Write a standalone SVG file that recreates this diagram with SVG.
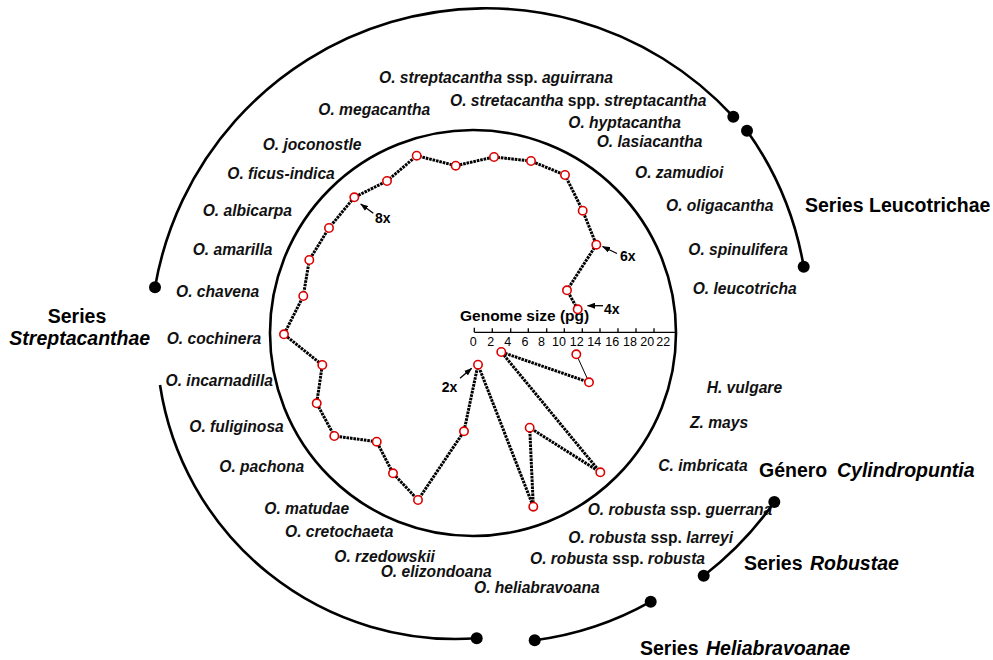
<svg xmlns="http://www.w3.org/2000/svg" width="993" height="660" viewBox="0 0 993 660">
<defs>
<style>
.sp{font-family:"Liberation Sans",Arial,sans-serif;font-weight:bold;font-style:italic;font-size:15.6px;fill:#111}
.up{font-style:normal}
.hd{font-family:"Liberation Sans",Arial,sans-serif;font-weight:bold;font-size:19.5px;fill:#000}
.it{font-style:italic}
.ax{font-family:"Liberation Sans",Arial,sans-serif;font-size:12.5px;fill:#000;text-anchor:middle}
.pl{font-family:"Liberation Sans",Arial,sans-serif;font-weight:bold;font-size:14px;fill:#000}
.arc{fill:none;stroke:#000;stroke-width:2.6}
.dot{fill:#000}
.chain{fill:none;stroke:#000;stroke-width:3;stroke-dasharray:2.6 0.9;stroke-linejoin:round}
.pt{fill:#fff;stroke:#d00;stroke-width:1.6}
.arr{stroke:#000;stroke-width:1.3;fill:none;marker-end:url(#ah)}
</style>
<marker id="ah" markerWidth="8" markerHeight="6" refX="7.5" refY="3" orient="auto" markerUnits="userSpaceOnUse">
<path d="M0,0 L8,3 L0,6 z" fill="#000"/>
</marker>
</defs>
<rect width="993" height="660" fill="#fff"/>

<g id="plot-frame">
<circle cx="473" cy="333" r="203" fill="none" stroke="#000" stroke-width="2.6"/>
</g>

<g id="axis">
<line x1="474.3" y1="332.3" x2="675.5" y2="332.3" stroke="#000" stroke-width="1.3"/>
<path d="M474.3,332.3V327.8 M492.3,332.3V328.3 M510.7,332.3V328.3 M528.3,332.3V328.3 M546.7,332.3V328.3 M564.3,332.3V328.3 M582.3,332.3V328.3 M600,332.3V328.3 M618,332.3V328.3 M636,332.3V328.3 M654,332.3V328.3" stroke="#000" stroke-width="1.3"/>
<text class="pl" x="460" y="321" style="font-size:15.5px">Genome size (pg)</text>
<text class="ax" y="346"><tspan x="473.3">0</tspan><tspan x="490.7">2</tspan><tspan x="507.7">4</tspan><tspan x="525">6</tspan><tspan x="541.5">8</tspan><tspan x="559">10</tspan><tspan x="576.7">12</tspan><tspan x="594.3">14</tspan><tspan x="612.3">16</tspan><tspan x="630">18</tspan><tspan x="647.3">20</tspan><tspan x="663.3">22</tspan></text>
</g>

<g id="connectors">
<path class="chain" d="M577.7,309.3 L567,290.3 L596.3,244.7 L582.7,210.7 L565,175 L531,161 L494,157 L455.7,165.7 L416.7,155.7 L387,181 L354.3,197.3 L329,228 L309.3,260 L303.3,296 L284,334.3 L322.3,365 L316.7,403.3 L334.3,436 L376.7,441.7 L393,473.3 L418,500 L464,431.3 L478,364.7 L533.3,506.7 L529.7,427.7 L600.3,472.3 L501.3,352 L589,382.3"/>
<line x1="576.3" y1="354.3" x2="589" y2="382.3" stroke="#000" stroke-width="1"/>
<line class="arr" x1="373.3" y1="213.3" x2="360.7" y2="204"/>
<line class="arr" x1="617" y1="253.5" x2="602.5" y2="246.5"/>
<line class="arr" x1="603" y1="305.7" x2="587.5" y2="305.7"/>
<line class="arr" x1="460" y1="378.3" x2="471.7" y2="368.3"/>
</g>

<g id="points">
<circle class="pt" cx="577.7" cy="309.3" r="4.2"/>
<circle class="pt" cx="567" cy="290.3" r="4.2"/>
<circle class="pt" cx="596.3" cy="244.7" r="4.2"/>
<circle class="pt" cx="582.7" cy="210.7" r="4.2"/>
<circle class="pt" cx="565" cy="175" r="4.2"/>
<circle class="pt" cx="531" cy="161" r="4.2"/>
<circle class="pt" cx="494" cy="157" r="4.2"/>
<circle class="pt" cx="455.7" cy="165.7" r="4.2"/>
<circle class="pt" cx="416.7" cy="155.7" r="4.2"/>
<circle class="pt" cx="387" cy="181" r="4.2"/>
<circle class="pt" cx="354.3" cy="197.3" r="4.2"/>
<circle class="pt" cx="329" cy="228" r="4.2"/>
<circle class="pt" cx="309.3" cy="260" r="4.2"/>
<circle class="pt" cx="303.3" cy="296" r="4.2"/>
<circle class="pt" cx="284" cy="334.3" r="4.2"/>
<circle class="pt" cx="322.3" cy="365" r="4.2"/>
<circle class="pt" cx="316.7" cy="403.3" r="4.2"/>
<circle class="pt" cx="334.3" cy="436" r="4.2"/>
<circle class="pt" cx="376.7" cy="441.7" r="4.2"/>
<circle class="pt" cx="393" cy="473.3" r="4.2"/>
<circle class="pt" cx="418" cy="500" r="4.2"/>
<circle class="pt" cx="464" cy="431.3" r="4.2"/>
<circle class="pt" cx="478" cy="364.7" r="4.2"/>
<circle class="pt" cx="533.3" cy="506.7" r="4.2"/>
<circle class="pt" cx="529.7" cy="427.7" r="4.2"/>
<circle class="pt" cx="600.3" cy="472.3" r="4.2"/>
<circle class="pt" cx="501.3" cy="352" r="4.2"/>
<circle class="pt" cx="589" cy="382.3" r="4.2"/>
<circle class="pt" cx="576.3" cy="354.3" r="4.2"/>
</g>

<g id="ploidy-labels">
<text class="pl" x="375" y="223">8x</text>
<text class="pl" x="620" y="260.5">6x</text>
<text class="pl" x="604" y="314">4x</text>
<text class="pl" x="441.7" y="391.7">2x</text>
</g>

<g id="species">
<text class="sp" x="379" y="82.5">O. streptacantha <tspan class="up">ssp.</tspan> aguirrana</text>
<text class="sp" x="450" y="106">O. stretacantha <tspan class="up">spp.</tspan> streptacantha</text>
<text class="sp" x="318.3" y="115">O. megacantha</text>
<text class="sp" x="568.3" y="128.3">O. hyptacantha</text>
<text class="sp" x="596.7" y="146.7">O. lasiacantha</text>
<text class="sp" x="262.7" y="150">O. joconostle</text>
<text class="sp" x="227.3" y="179">O. ficus-indica</text>
<text class="sp" x="635" y="178.3">O. zamudioi</text>
<text class="sp" x="202.7" y="216">O. albicarpa</text>
<text class="sp" x="666" y="210.7">O. oligacantha</text>
<text class="sp" x="192.7" y="254.5">O. amarilla</text>
<text class="sp" x="688.3" y="255">O. spinulifera</text>
<text class="sp" x="176" y="296.7">O. chavena</text>
<text class="sp" x="692.7" y="294">O. leucotricha</text>
<text class="sp" x="166.7" y="344.3">O. cochinera</text>
<text class="sp" x="165.5" y="386">O. incarnadilla</text>
<text class="sp" x="706.7" y="392.7">H. vulgare</text>
<text class="sp" x="690" y="428.3">Z. mays</text>
<text class="sp" x="189.3" y="431.7">O. fuliginosa</text>
<text class="sp" x="219.3" y="471.7">O. pachona</text>
<text class="sp" x="658.3" y="470.5">C. imbricata</text>
<text class="sp" x="264.3" y="514.3">O. matudae</text>
<text class="sp" x="587.7" y="515">O. robusta <tspan class="up">ssp.</tspan> guerrana</text>
<text class="sp" x="285" y="537.3">O. cretochaeta</text>
<text class="sp" x="568.3" y="542.7">O. robusta <tspan class="up">ssp.</tspan> larreyi</text>
<text class="sp" x="334.3" y="561.7">O. rzedowskii</text>
<text class="sp" x="530" y="564">O. robusta <tspan class="up">ssp.</tspan> robusta</text>
<text class="sp" x="380.7" y="576.7">O. elizondoana</text>
<text class="sp" x="474" y="593.3">O. heliabravoana</text>
</g>

<g id="series-streptacanthae">
<path class="arc" d="M155,287.3 A336 336 0 0 1 733.3,116.7"/>
<path class="arc" d="M160,385 A299 299 0 0 0 476.7,638.3"/>
<circle class="dot" cx="155" cy="287.3" r="6"/>
<circle class="dot" cx="733.3" cy="116.7" r="6"/>
<circle class="dot" cx="476.7" cy="638.3" r="6"/>
<text class="hd" x="47.7" y="322.7">Series</text>
<text class="hd it" x="9.3" y="345">Streptacanthae</text>
</g>

<g id="series-leucotrichae">
<path class="arc" d="M747,130.7 A330 330 0 0 1 803.7,266.7"/>
<circle class="dot" cx="747" cy="130.7" r="6"/>
<circle class="dot" cx="803.7" cy="266.7" r="6"/>
<text class="hd" x="805" y="211.7">Series Leucotrichae</text>
</g>

<g id="genero-cylindropuntia">
<circle class="dot" cx="774.3" cy="502" r="6"/>
<text class="hd" x="759" y="477">Género<tspan class="it" x="837">Cylindropuntia</tspan></text>
</g>

<g id="series-robustae">
<path class="arc" d="M774.3,502 A340 340 0 0 1 703.7,575.7"/>
<circle class="dot" cx="703.7" cy="575.7" r="6"/>
<text class="hd" x="744" y="570">Series<tspan class="it" x="810">Robustae</tspan></text>
</g>

<g id="series-heliabravoanae">
<path class="arc" d="M650.7,601.7 A320 320 0 0 1 534.7,640.3"/>
<circle class="dot" cx="650.7" cy="601.7" r="6"/>
<circle class="dot" cx="534.7" cy="640.3" r="6"/>
<text class="hd" x="640" y="655">Series<tspan class="it" x="706">Heliabravoanae</tspan></text>
</g>
</svg>
